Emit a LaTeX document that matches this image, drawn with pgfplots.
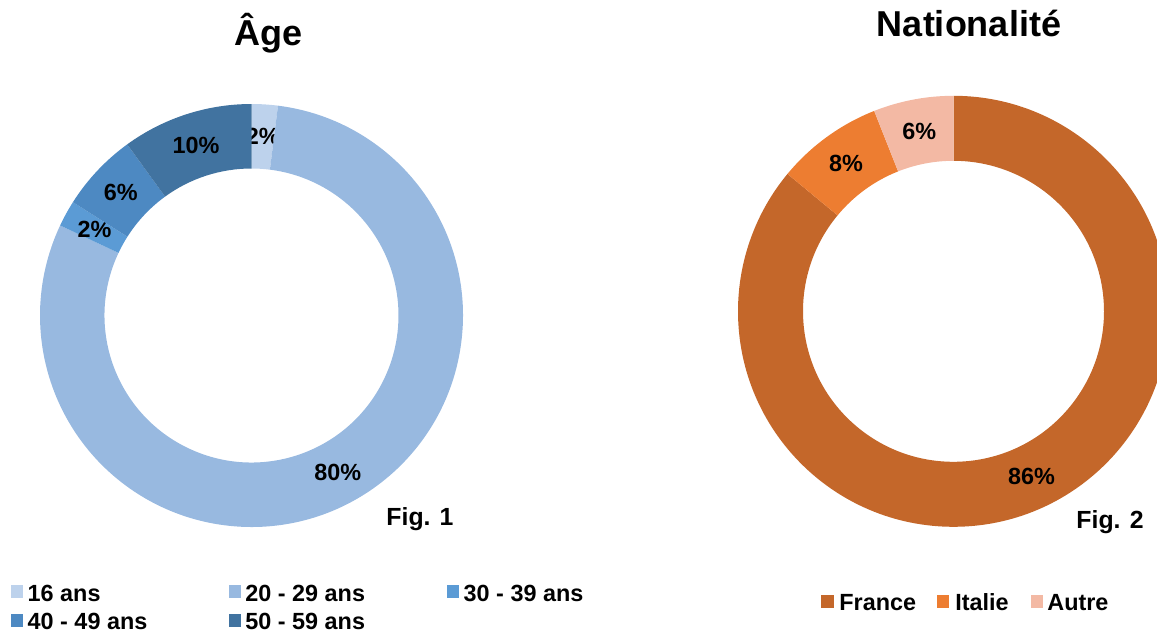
\documentclass[border=0pt]{standalone}
\usepackage{pgfplots}
\usepackage{pgfplotstable}
\pgfplotsset{compat=1.18}
\usepackage{fontspec}
\setmainfont{Liberation Sans}

% slice colours
\definecolor{ageA}{RGB}{189,210,236}
\definecolor{ageB}{RGB}{152,185,224}
\definecolor{ageC}{RGB}{91,155,213}
\definecolor{ageD}{RGB}{77,137,194}
\definecolor{ageE}{RGB}{65,115,160}
\definecolor{natA}{RGB}{196,103,42}
\definecolor{natB}{RGB}{237,125,49}
\definecolor{natC}{RGB}{243,185,164}

% shares in percent, clockwise from the top
\pgfplotstableread{
value color
2  ageA
80 ageB
2  ageC
6  ageD
10 ageE
}\agetable
\pgfplotstableread{
value color
86 natA
8  natB
6  natC
}\nattable

\newcommand\slicefont{\fontsize{11.7pt}{14pt}\selectfont\bfseries}
\newcommand\titlefont{\fontsize{18pt}{21pt}\selectfont\bfseries}
\newcommand\figfont{\fontsize{12.4pt}{15pt}\selectfont\bfseries}
\newcommand\legfont{\fontsize{11.7pt}{14pt}\selectfont\bfseries}

% \donut{table}{last row}{outer radius}{inner radius}  (radii in axis units, 1 unit = 0.5pt)
\newcommand\donut[4]{%
  \pgfplotsextra{%
    \def\slicestart{90}%
    \pgfplotsforeachungrouped \i in {0,...,#2}{%
      \pgfplotstablegetelem{\i}{value}\of#1\let\sliceval\pgfplotsretval
      \pgfplotstablegetelem{\i}{color}\of#1\let\slicecol\pgfplotsretval
      \pgfmathsetmacro\slicestop{\slicestart-3.6*\sliceval}%
      \pgfmathsetmacro\slicemid{(\slicestart+\slicestop)/2}%
      \fill[fill=\slicecol]
        (axis cs:{#3*cos(\slicestart)},{#3*sin(\slicestart)})
        arc[start angle=\slicestart, end angle=\slicestop, radius=#3*0.5pt]
        -- (axis cs:{#4*cos(\slicestop)},{#4*sin(\slicestop)})
        arc[start angle=\slicestop, end angle=\slicestart, radius=#4*0.5pt]
        -- cycle;
      \node[font=\slicefont, inner sep=0pt]
        at (axis cs:{(#3+#4)/2*cos(\slicemid)},{(#3+#4)/2*sin(\slicemid)}) {\sliceval\%};
      \let\slicestart\slicestop
    }%
  }%
}

\begin{document}
\begin{tikzpicture}
% Age
\begin{axis}[at={(125.75pt,-157.75pt)}, anchor=center, scale only axis,
  width=240pt, height=240pt, xmin=-240, xmax=240, ymin=-240, ymax=240,
  hide axis, clip=false]
  \donut{\agetable}{4}{211.5}{147}
\end{axis}
% Nationality
\begin{axis}[at={(476.75pt,-155.65pt)}, anchor=center, scale only axis,
  width=240pt, height=240pt, xmin=-240, xmax=240, ymin=-240, ymax=240,
  hide axis, clip=false]
  \donut{\nattable}{2}{215.5}{150.5}
\end{axis}

\begin{scope}[x=0.5pt, y=-0.5pt]
  \node[anchor=base, font=\titlefont, inner sep=0pt] at (269,45.7) {Âge};
  \node[anchor=base, font=\titlefont, inner sep=0pt] at (969,36.7) {Nationalité};
  \node[anchor=base, font=\figfont, inner sep=0pt] at (420,525) {Fig. 1};
  \node[anchor=base, font=\figfont, inner sep=0pt] at (1110,528.3) {Fig. 2};

  % legend, age
  \fill[ageA] (10.7,585) rectangle (22.7,597.5);
  \node[anchor=base west, font=\legfont, inner sep=0pt] at (27.3,601) {16 ans};
  \fill[ageB] (228.7,585) rectangle (240.7,597.5);
  \node[anchor=base west, font=\legfont, inner sep=0pt] at (245,601) {20 - 29 ans};
  \fill[ageC] (446.5,585) rectangle (458.5,597.5);
  \node[anchor=base west, font=\legfont, inner sep=0pt] at (463.3,601) {30 - 39 ans};
  \fill[ageD] (10.7,614) rectangle (22.7,626.5);
  \node[anchor=base west, font=\legfont, inner sep=0pt] at (27.3,629) {40 - 49 ans};
  \fill[ageE] (228.7,614) rectangle (240.7,626.5);
  \node[anchor=base west, font=\legfont, inner sep=0pt] at (245,629) {50 - 59 ans};

  % legend, nationality
  \fill[natA] (821,595) rectangle (834,607.5);
  \node[anchor=base west, font=\legfont, inner sep=0pt] at (839,610) {France};
  \fill[natB] (937,595) rectangle (949,607.5);
  \node[anchor=base west, font=\legfont, inner sep=0pt] at (955,610) {Italie};
  \fill[natC] (1031,595) rectangle (1043,607.5);
  \node[anchor=base west, font=\legfont, inner sep=0pt] at (1047,610) {Autre};

  \pgfresetboundingbox
  \useasboundingbox (0,0) rectangle (1157,631);
\end{scope}
\end{tikzpicture}
\end{document}
